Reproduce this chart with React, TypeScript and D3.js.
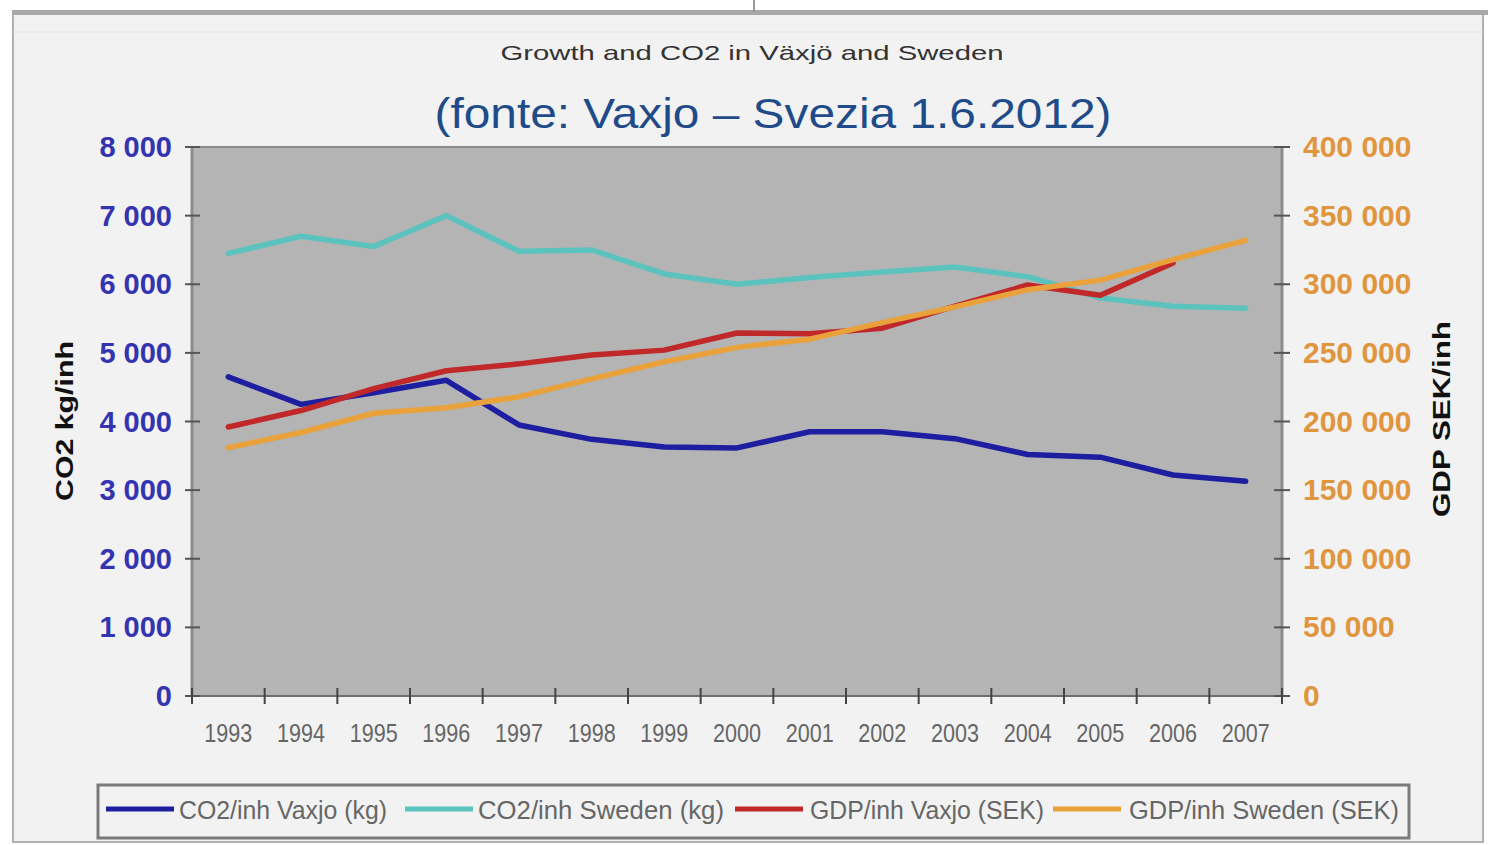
import React from 'react';
import * as d3 from 'd3';

const years = ['1993', '1994', '1995', '1996', '1997', '1998', '1999', '2000', '2001', '2002', '2003', '2004', '2005', '2006', '2007'];
const co2Vaxjo = [4650, 4250, 4420, 4600, 3950, 3740, 3630, 3615, 3850, 3850, 3750, 3520, 3480, 3220, 3130];
const co2Sweden = [6450, 6700, 6550, 7000, 6480, 6500, 6150, 6000, 6100, 6180, 6250, 6110, 5800, 5680, 5650];
const gdpVaxjo: (number | null)[] = [196000, 208000, 224000, 237000, 242000, 248500, 252000, 264500, 264000, 268000, 284000, 299500, 292000, 315500, null];
const gdpSweden = [181000, 192000, 206000, 210000, 218000, 231000, 243500, 254000, 260000, 272000, 283500, 296000, 303000, 318000, 332000];
const leftTicks = [0, 1000, 2000, 3000, 4000, 5000, 6000, 7000, 8000];
const rightTicks = [0, 50000, 100000, 150000, 200000, 250000, 300000, 350000, 400000];
const seriesNames = ['CO2/inh Vaxjo (kg)', 'CO2/inh Sweden (kg)', 'GDP/inh Vaxjo (SEK)', 'GDP/inh Sweden (SEK)'];
const seriesColors = ['#1e1ea0', '#5cc2bd', '#c0282a', '#e9a23b'];

const FONT = "'Liberation Sans', Arial, sans-serif";

export default function App() {
  const W = 1488, H = 845;
  const left = 192, right = 1282, top = 147, bottom = 696;

  const x = d3.scaleBand<string>().domain(years).range([left, right]).padding(0);
  const yL = d3.scaleLinear().domain([0, 8000]).range([bottom, top]);
  const yR = d3.scaleLinear().domain([0, 400000]).range([bottom, top]);
  const fmt = (v: number) => d3.format(',')(v).replace(/,/g, ' ');
  const cx = (i: number) => (x(years[i]) as number) + x.bandwidth() / 2;

  const lineL = d3.line<number | null>()
    .defined(d => d != null)
    .x((_, i) => cx(i))
    .y(d => yL(d as number));
  const lineR = d3.line<number | null>()
    .defined(d => d != null)
    .x((_, i) => cx(i))
    .y(d => yR(d as number));

  const series = [
    { d: lineL(co2Vaxjo), c: seriesColors[0] },
    { d: lineL(co2Sweden), c: seriesColors[1] },
    { d: lineR(gdpVaxjo), c: seriesColors[2] },
    { d: lineR(gdpSweden), c: seriesColors[3] },
  ];

  const boundaries = years.map(y => x(y) as number).concat([right]);

  // legend layout
  const legLines = [106, 405, 735, 1053];
  const legText = [{ x: 179, w: 208 }, { x: 478, w: 246 }, { x: 810, w: 234 }, { x: 1129, w: 270 }];

  return (
    <svg width={W} height={H} style={{ position: 'absolute', left: 0, top: 0 }} fontFamily={FONT}>
      <rect x={0} y={0} width={W} height={H} fill="#ffffff" />
      <rect x={13} y={12} width={1470} height={830} fill="#f2f2f2" stroke="#b0b0b0" strokeWidth={2} />
      <rect x={12} y={10} width={1476} height={5} fill="#a8a8a8" />
      <line x1={13} x2={1483} y1={32} y2={32} stroke="#e4e4e4" strokeWidth={1} />
      <line x1={754} x2={754} y1={0} y2={12} stroke="#999" strokeWidth={2} />

      <text x={752} y={60} textAnchor="middle" fontSize={21} fill="#333" textLength={503} lengthAdjust="spacingAndGlyphs">
        Growth and CO2 in Växjö and Sweden
      </text>
      <text x={773} y={128} textAnchor="middle" fontSize={42} fill="#1f4b88" textLength={677} lengthAdjust="spacingAndGlyphs">
        (fonte: Vaxjo – Svezia 1.6.2012)
      </text>

      <rect x={left} y={top} width={right - left} height={bottom - top} fill="#b4b4b4" />

      {/* axes lines */}
      <line x1={left} x2={left} y1={top} y2={bottom} stroke="#8c8c8c" strokeWidth={3} />
      <line x1={right} x2={right} y1={top} y2={bottom} stroke="#8c8c8c" strokeWidth={3} />
      <line x1={left} x2={right} y1={bottom} y2={bottom} stroke="#6e6e6e" strokeWidth={2} />
      <line x1={left} x2={right} y1={top} y2={top} stroke="#8a8a8a" strokeWidth={2} />

      {leftTicks.map(t => (
        <g key={'l' + t}>
          <line x1={185} x2={200} y1={yL(t)} y2={yL(t)} stroke="#555" strokeWidth={2} />
          <text x={172} y={yL(t) + 10} textAnchor="end" fontSize={29} fontWeight="bold" fill="#3434b0">{fmt(t)}</text>
        </g>
      ))}
      {rightTicks.map(t => (
        <g key={'r' + t}>
          <line x1={1274} x2={1290} y1={yR(t)} y2={yR(t)} stroke="#555" strokeWidth={2} />
          <text x={1303} y={yR(t) + 10} textAnchor="start" fontSize={30} fontWeight="bold" fill="#e0953f">{fmt(t)}</text>
        </g>
      ))}
      {boundaries.map((b, i) => (
        <line key={'b' + i} x1={b} x2={b} y1={688} y2={704} stroke="#444" strokeWidth={2} />
      ))}
      {years.map(y => (
        <text key={y} x={(x(y) as number) + x.bandwidth() / 2} y={742} textAnchor="middle" fontSize={25} fill="#666" textLength={48} lengthAdjust="spacingAndGlyphs">{y}</text>
      ))}

      <text transform="translate(73,421) rotate(-90)" textAnchor="middle" fontSize={24} fontWeight="bold" fill="#111" textLength={160} lengthAdjust="spacingAndGlyphs">CO2 kg/inh</text>
      <text transform="translate(1450,419) rotate(-90)" textAnchor="middle" fontSize={24} fontWeight="bold" fill="#111" textLength={196} lengthAdjust="spacingAndGlyphs">GDP SEK/inh</text>

      {series.map((s, i) => (
        <path key={'s' + i} d={s.d || ''} fill="none" stroke={s.c} strokeWidth={5.5} strokeLinejoin="round" strokeLinecap="round" />
      ))}

      <rect x={98} y={785} width={1311} height={53} fill="#f2f2f2" stroke="#7a7a7a" strokeWidth={3} />
      {seriesNames.map((n, i) => (
        <g key={n}>
          <line x1={legLines[i]} x2={legLines[i] + 68} y1={809} y2={809} stroke={seriesColors[i]} strokeWidth={5} />
          <text x={legText[i].x} y={819} fontSize={26} fill="#666" textLength={legText[i].w} lengthAdjust="spacingAndGlyphs">{n}</text>
        </g>
      ))}
    </svg>
  );
}
